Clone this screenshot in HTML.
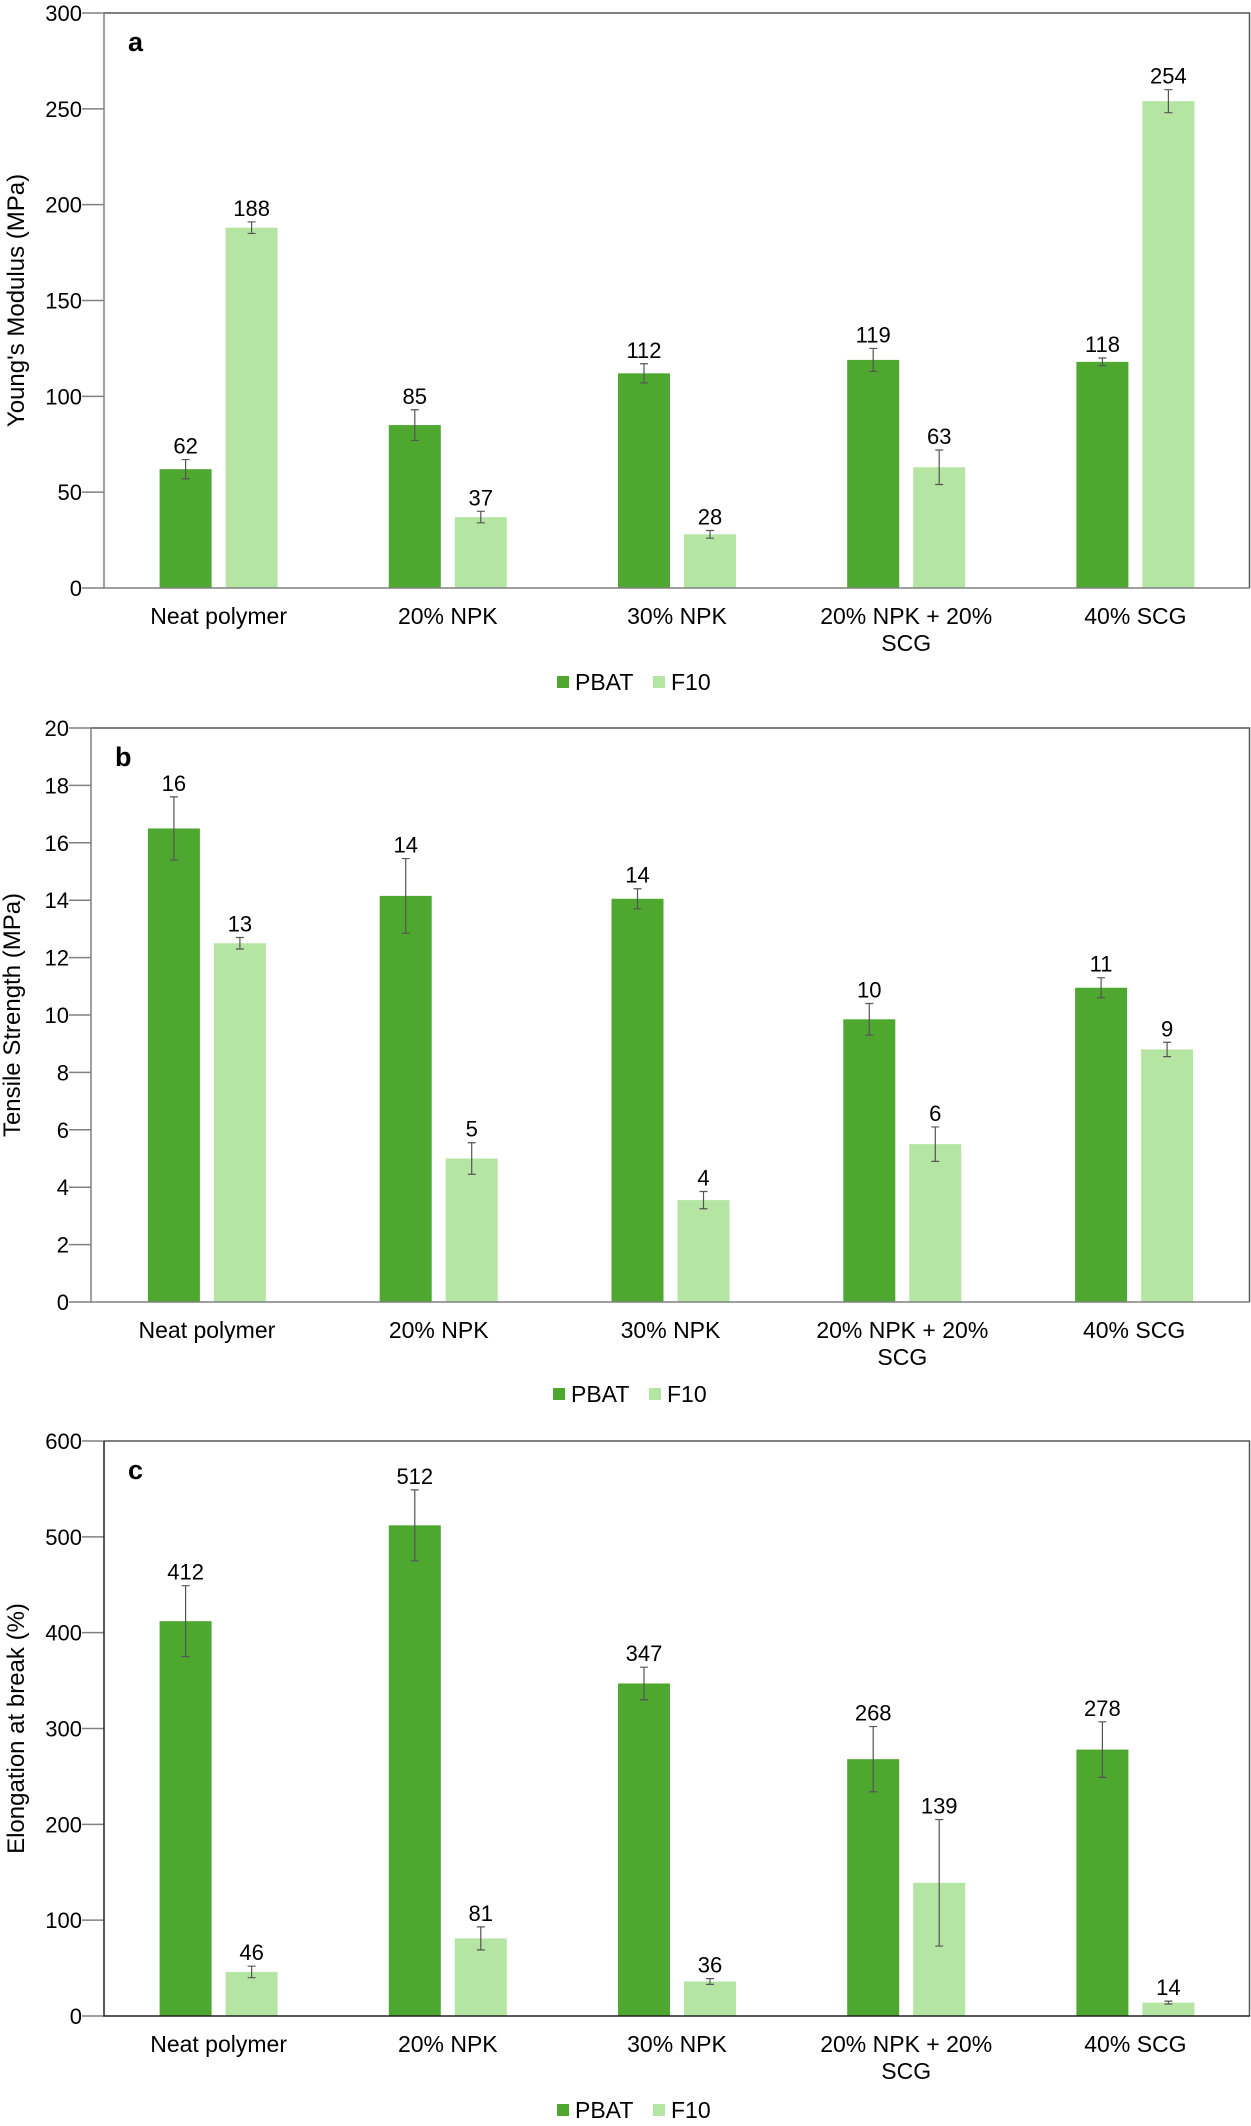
<!DOCTYPE html>
<html><head><meta charset="utf-8">
<style>
html,body{margin:0;padding:0;background:#fff;}
svg{display:block;font-family:"Liberation Sans",Arial,sans-serif;}
</style></head>
<body>
<svg id="chart" width="1251" height="2126" viewBox="0 0 1251 2126" xmlns="http://www.w3.org/2000/svg"></svg>
<script>
const categories = ["Neat polymer", "20% NPK", "30% NPK", "20% NPK + 20%|SCG", "40% SCG"];
const seriesNames = ["PBAT", "F10"];
// Panel a: Young's modulus
const modulusPBAT = [62, 85, 112, 119, 118];
const modulusF10 = [188, 37, 28, 63, 254];
const modulusPBATErr = [5, 8, 5, 6, 2];
const modulusF10Err = [3, 3, 2, 9, 6];
const modulusLabelsPBAT = ["62", "85", "112", "119", "118"];
const modulusLabelsF10 = ["188", "37", "28", "63", "254"];
const modulusTicks = [0, 50, 100, 150, 200, 250, 300];
// Panel b: Tensile strength
const tensilePBAT = [16.5, 14.15, 14.05, 9.85, 10.95];
const tensileF10 = [12.5, 5.0, 3.55, 5.5, 8.8];
const tensilePBATErr = [1.1, 1.3, 0.35, 0.55, 0.35];
const tensileF10Err = [0.2, 0.55, 0.3, 0.6, 0.25];
const tensileLabelsPBAT = ["16", "14", "14", "10", "11"];
const tensileLabelsF10 = ["13", "5", "4", "6", "9"];
const tensileTicks = [0, 2, 4, 6, 8, 10, 12, 14, 16, 18, 20];
// Panel c: Elongation at break
const elongPBAT = [412, 512, 347, 268, 278];
const elongF10 = [46, 81, 36, 139, 14];
const elongPBATErr = [37, 37, 17, 34, 29];
const elongF10Err = [6, 12, 3, 66, 1.5];
const elongLabelsPBAT = ["412", "512", "347", "268", "278"];
const elongLabelsF10 = ["46", "81", "36", "139", "14"];
const elongTicks = [0, 100, 200, 300, 400, 500, 600];

const NS = "http://www.w3.org/2000/svg";
const svg = document.getElementById("chart");
const COLORS = ["#4ea72e", "#b5e5a2"];
function mk(tag, attrs, parent) {
  const e = document.createElementNS(NS, tag);
  for (const k in attrs) e.setAttribute(k, attrs[k]);
  (parent || svg).appendChild(e);
  return e;
}

function panel(p) {
  const g = mk("g", {});
  
  
  const left = p.left, right = 1250, top = p.top, bottom = p.bottom;
  const maxV = p.ticks[p.ticks.length - 1];
  const y = v => bottom - (v / maxV) * (bottom - top);
  const cw = (right - left) / categories.length;
  const cx = i => left + cw * (i + 0.5);
  const fr = mk("path", {d: `M${left} ${top}H${right - 0.5}V${bottom}`, fill: "none", stroke: "#555", "stroke-width": 1.5}, g);
  
  
  p.ticks.forEach(t => {
    const tk = mk("line", {x1: left - 22, x2: left, y1: y(t), y2: y(t), stroke: "#808080", "stroke-width": 1.5}, g);
    
    
    const tl = mk("text", {x: left - 22, y: y(t) + 8, "text-anchor": "end", "font-size": 22, fill: "#000"}, g);
    tl.textContent = t;
    
    
  });
  const series = [[p.pbat, p.pbatErr, p.pbatLab], [p.f10, p.f10Err, p.f10Lab]];
  series.forEach((s, si) => {
    s[0].forEach((v, i) => {
      const x = cx(i) + (si === 0 ? -59 : 7);
      const r = mk("rect", {x: x, y: y(v), width: 52, height: bottom - y(v), fill: COLORS[si]}, g);
      
      
      const ex = x + 26, et = y(v + s[1][i]), eb = y(v - s[1][i]);
      const eg = mk("path", {d: `M${ex} ${et}V${eb}M${ex - 4} ${et}H${ex + 4}M${ex - 4} ${eb}H${ex + 4}`, stroke: "#555", "stroke-width": 1.2, fill: "none"}, g);
      
      
      const lb = mk("text", {x: ex, y: et - 6, "text-anchor": "middle", "font-size": 22, fill: "#000"}, g);
      lb.textContent = s[2][i];
      
      
    });
  });
  const ax = mk("path", {d: `M${left} ${top}V${bottom}H${right}`, fill: "none", stroke: p.axisColor, "stroke-width": 1.5}, g);
  
  
  categories.forEach((c, i) => {
    c.split("|").forEach((line, li) => {
      const t = mk("text", {x: cx(i), y: bottom + 36 + li * 27, "text-anchor": "middle", "font-size": 23, fill: "#000"}, g);
      t.textContent = line;
      
      
    });
  });
  const pl = mk("text", {x: left + 24, y: top + 38, "font-size": 27, "font-weight": "bold", fill: "#000"}, g);
  pl.textContent = p.letter;
  
  
  const yc = (top + bottom) / 2;
  const yt = mk("text", {x: p.titleX, y: yc, "text-anchor": "middle", "font-size": 24, fill: "#000", transform: `rotate(-90 ${p.titleX} ${yc})`}, g);
  yt.textContent = p.title;
  
  
  const lg = mk("g", {}, g);
  
  
  const lx = p.legendX, ly = p.legendY;
  [[0, 0], [1, 96]].forEach(([si, off]) => {
    const sq = mk("rect", {x: lx + off, y: ly - 6, width: 12, height: 12, fill: COLORS[si]}, lg);
    
    
    const lt = mk("text", {x: lx + off + 18, y: ly + 8, "font-size": 23, fill: "#000"}, lg);
    lt.textContent = seriesNames[si];
    
    
  });
}

panel({name: "panel-a-youngs-modulus", letter: "a", title: "Young's Modulus (MPa)", left: 104, top: 13, bottom: 588,
  ticks: modulusTicks, pbat: modulusPBAT, f10: modulusF10, pbatErr: modulusPBATErr, f10Err: modulusF10Err,
  pbatLab: modulusLabelsPBAT, f10Lab: modulusLabelsF10, titleX: 24, legendX: 557, legendY: 682, axisColor: "#808080"});
panel({name: "panel-b-tensile-strength", letter: "b", title: "Tensile Strength (MPa)", left: 91, top: 728, bottom: 1302,
  ticks: tensileTicks, pbat: tensilePBAT, f10: tensileF10, pbatErr: tensilePBATErr, f10Err: tensileF10Err,
  pbatLab: tensileLabelsPBAT, f10Lab: tensileLabelsF10, titleX: 20, legendX: 553, legendY: 1394, axisColor: "#808080"});
panel({name: "panel-c-elongation", letter: "c", title: "Elongation at break (%)", left: 104, top: 1441, bottom: 2016,
  ticks: elongTicks, pbat: elongPBAT, f10: elongF10, pbatErr: elongPBATErr, f10Err: elongF10Err,
  pbatLab: elongLabelsPBAT, f10Lab: elongLabelsF10, titleX: 24, legendX: 557, legendY: 2110, axisColor: "#222"});
</script>
</body></html>
